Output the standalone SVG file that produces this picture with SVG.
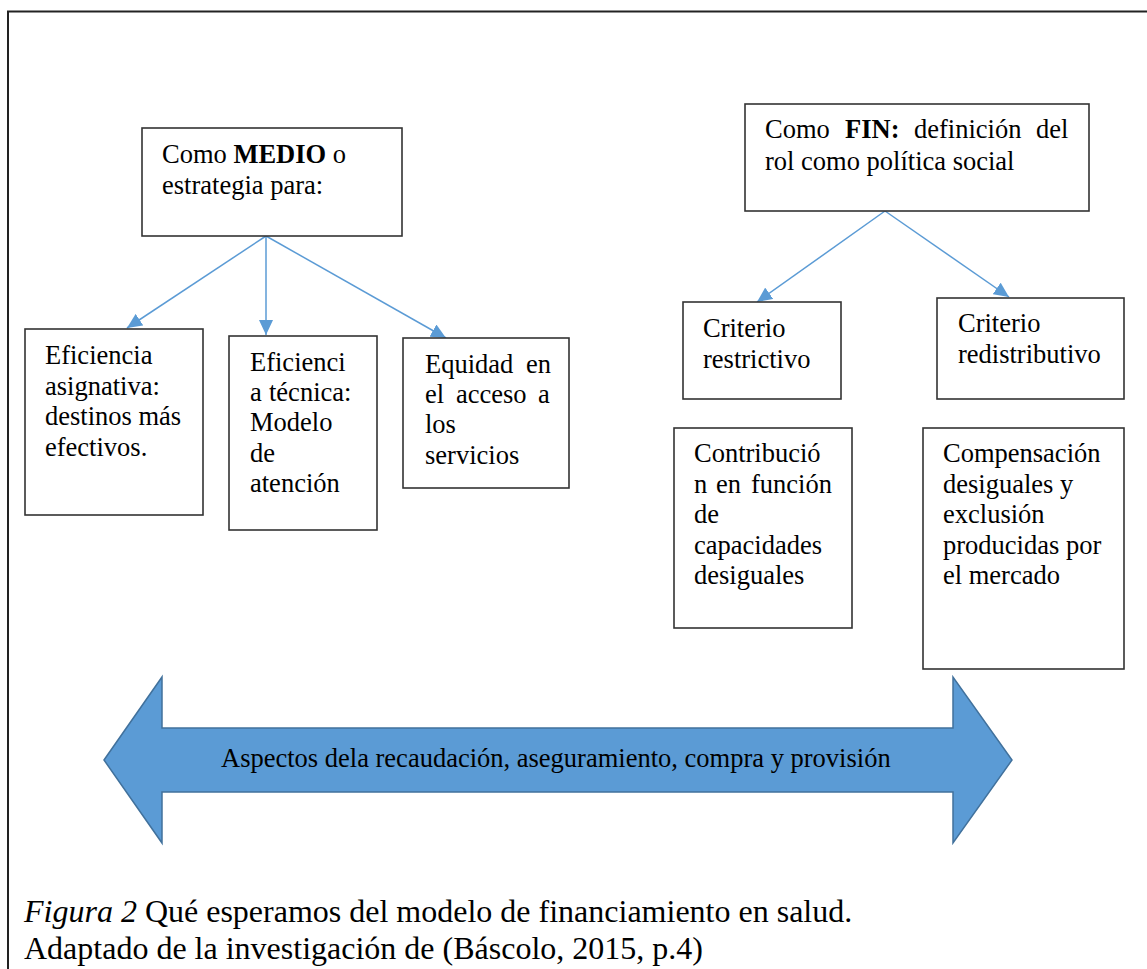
<svg xmlns="http://www.w3.org/2000/svg" width="1147" height="969" viewBox="0 0 1147 969">
  <style>
    text { font-family: "Liberation Serif", "Times New Roman", serif; fill: #000; }
    .t { font-size: 26.5px; }
    .cap { font-size: 32px; }
    .box { fill: #fff; stroke: #333; stroke-width: 1.6; }
    .link { fill: none; stroke: #5B9BD5; stroke-width: 1.5; marker-end: url(#head); }
  </style>
  <defs>
    <marker id="head" markerUnits="userSpaceOnUse" markerWidth="15" markerHeight="14" refX="15" refY="7" orient="auto">
      <path d="M0,0 L15,7 L0,14 Z" fill="#5B9BD5"/>
    </marker>
  </defs>

  <rect width="1147" height="969" fill="#fff"/>
  <!-- page frame -->
  <rect x="8" y="11.5" width="1200" height="1000" fill="none" stroke="#222" stroke-width="2"/>

  <!-- connectors -->
  <g id="connectors">
    <line class="link" x1="266" y1="236" x2="127" y2="328"/>
    <line class="link" x1="266" y1="236" x2="266" y2="335"/>
    <line class="link" x1="266" y1="236" x2="446" y2="338"/>
    <line class="link" x1="885" y1="211" x2="757" y2="302"/>
    <line class="link" x1="885" y1="211" x2="1009" y2="297"/>
  </g>

  <g id="medio">
    <rect class="box" x="142" y="128" width="260" height="108"/>
    <text class="t" x="162" y="163">Como <tspan font-weight="bold">MEDIO</tspan> o</text>
    <text class="t" x="162" y="194">estrategia para:</text>
  </g>

  <g id="fin">
    <rect class="box" x="745" y="104" width="344" height="107"/>
    <text class="t" y="138"><tspan x="765">Como</tspan><tspan x="845" font-weight="bold">FIN:</tspan><tspan x="914">definición</tspan><tspan x="1036">del</tspan></text>
    <text class="t" x="765" y="170">rol como política social</text>
  </g>

  <g id="eficiencia-asignativa">
    <rect class="box" x="25" y="329" width="178" height="186"/>
    <text class="t" x="45" y="364">Eficiencia</text>
    <text class="t" x="45" y="395">asignativa:</text>
    <text class="t" x="45" y="425">destinos más</text>
    <text class="t" x="45" y="456">efectivos.</text>
  </g>

  <g id="eficiencia-tecnica">
    <rect class="box" x="229" y="336" width="148" height="194"/>
    <text class="t" x="250" y="371">Eficienci</text>
    <text class="t" y="401"><tspan x="250">a</tspan><tspan x="269">técnica:</tspan></text>
    <text class="t" x="250" y="431">Modelo</text>
    <text class="t" x="250" y="462">de</text>
    <text class="t" x="250" y="492">atención</text>
  </g>

  <g id="equidad">
    <rect class="box" x="403" y="338" width="166" height="150"/>
    <text class="t" y="373"><tspan x="425">Equidad</tspan><tspan x="526">en</tspan></text>
    <text class="t" y="403"><tspan x="425">el</tspan><tspan x="456">acceso</tspan><tspan x="538">a</tspan></text>
    <text class="t" x="425" y="433">los</text>
    <text class="t" x="425" y="464">servicios</text>
  </g>

  <g id="criterio-restrictivo">
    <rect class="box" x="683" y="302" width="158" height="97"/>
    <text class="t" x="703" y="337">Criterio</text>
    <text class="t" x="703" y="368">restrictivo</text>
  </g>

  <g id="criterio-redistributivo">
    <rect class="box" x="937" y="298" width="187" height="101"/>
    <text class="t" x="958" y="332">Criterio</text>
    <text class="t" x="958" y="363">redistributivo</text>
  </g>

  <g id="contribucion">
    <rect class="box" x="674" y="428" width="178" height="200"/>
    <text class="t" x="694" y="462">Contribució</text>
    <text class="t" y="493"><tspan x="694">n</tspan><tspan x="716">en</tspan><tspan x="751">función</tspan></text>
    <text class="t" x="694" y="523">de</text>
    <text class="t" x="694" y="554">capacidades</text>
    <text class="t" x="694" y="584">desiguales</text>
  </g>

  <g id="compensacion">
    <rect class="box" x="923" y="428" width="201" height="241"/>
    <text class="t" x="943" y="462">Compensación</text>
    <text class="t" x="943" y="493">desiguales y</text>
    <text class="t" x="943" y="523">exclusión</text>
    <text class="t" x="943" y="554">producidas por</text>
    <text class="t" x="943" y="584">el mercado</text>
  </g>

  <g id="aspectos">
    <polygon points="104,760 162,677 162,728 953,728 953,677 1012,760 953,843 953,792 162,792 162,843" fill="#5B9BD5" stroke="#41719C" stroke-width="1.5" stroke-linejoin="miter"/>
    <text class="t" x="221" y="767">Aspectos dela recaudación, aseguramiento, compra y provisión</text>
  </g>

  <g id="caption">
    <text class="cap" x="24" y="922"><tspan font-style="italic">Figura 2</tspan> Qué esperamos del modelo de financiamiento en salud.</text>
    <text class="cap" x="24" y="959">Adaptado de la investigación de (Báscolo, 2015, p.4)</text>
  </g>
</svg>
